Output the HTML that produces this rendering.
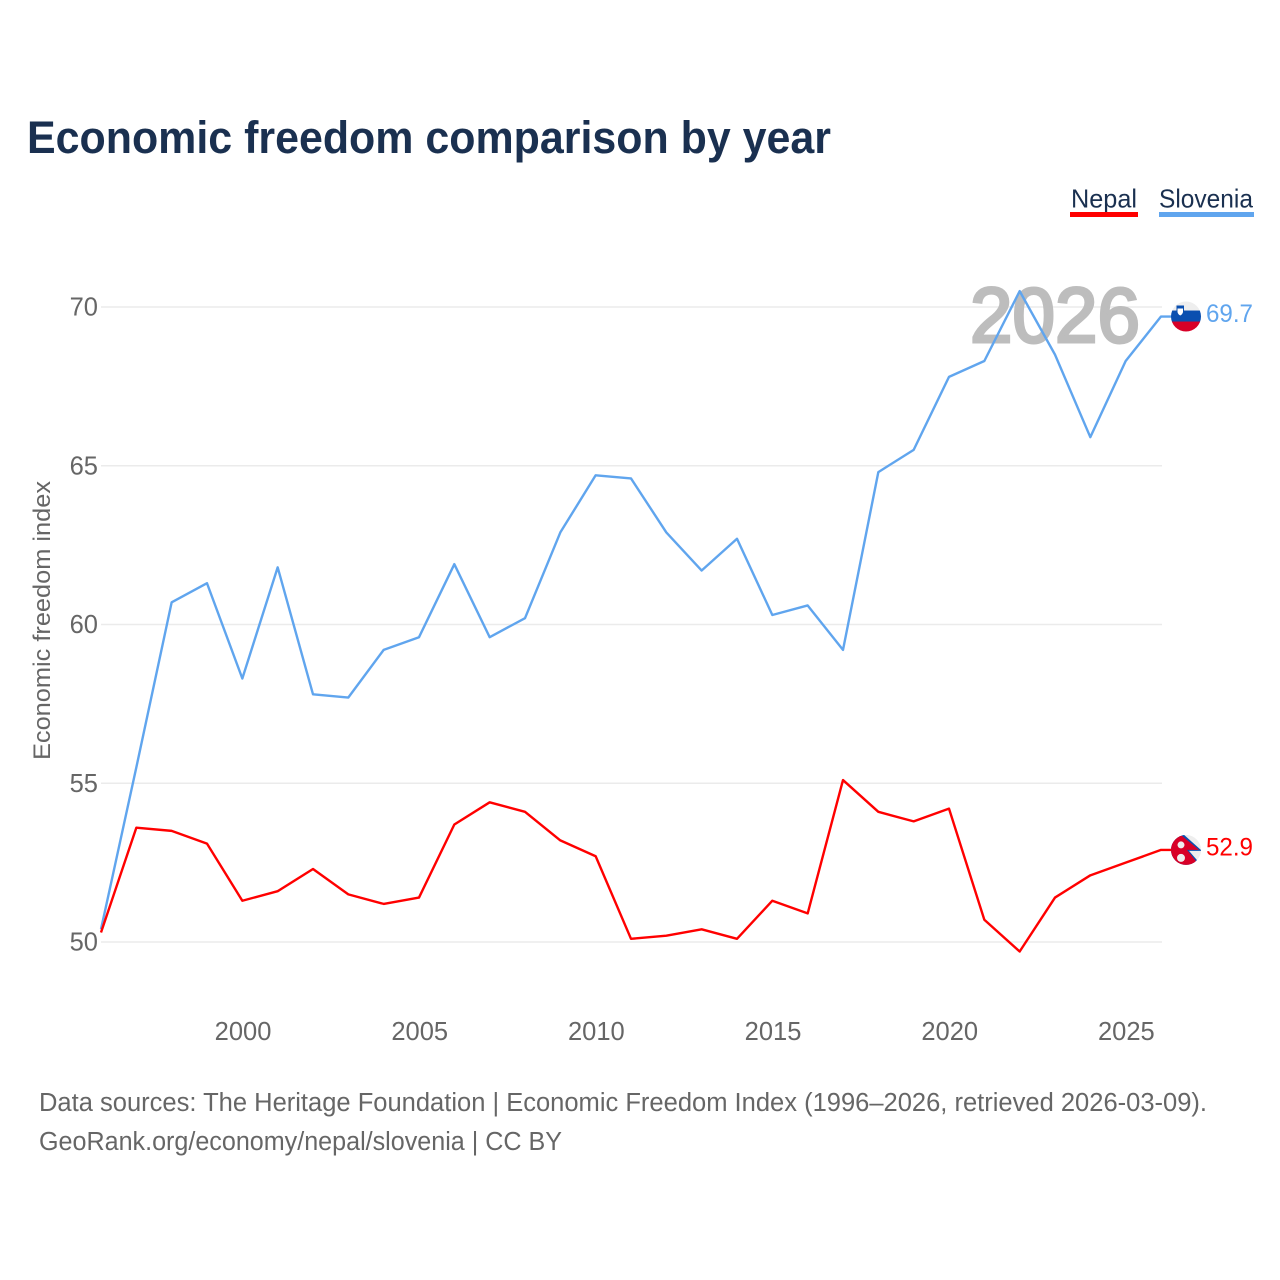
<!DOCTYPE html>
<html lang="en">
<head>
<meta charset="utf-8">
<title>Economic freedom comparison by year</title>
<style>
html,body{margin:0;padding:0;background:#fff;width:1280px;height:1280px;overflow:hidden}
svg{display:block;font-family:"Liberation Sans",sans-serif}
</style>
</head>
<body>
<svg id="chart" xmlns="http://www.w3.org/2000/svg" width="1280" height="1280" viewBox="0 0 1280 1280">
  <rect x="0" y="0" width="1280" height="1280" fill="#ffffff"/>
  <text x="27" y="153" font-size="45" font-weight="700" fill="#1a3050" textLength="804" lengthAdjust="spacingAndGlyphs">Economic freedom comparison by year</text>
  <g>
    <g>
      <text x="1071" y="207.5" font-size="26" fill="#1a3050" textLength="66" lengthAdjust="spacingAndGlyphs">Nepal</text>
      <rect x="1070" y="212" width="68" height="5" fill="#ff0000"/>
    </g>
    <g>
      <text x="1159" y="207.5" font-size="26" fill="#1a3050" textLength="94" lengthAdjust="spacingAndGlyphs">Slovenia</text>
      <rect x="1159" y="212" width="95" height="5" fill="#60a5ee"/>
    </g>
  </g>
  <g id="grid"></g>
  <text x="970" y="342" font-size="78" font-weight="400" fill="#bdbdbd" stroke="#bdbdbd" stroke-width="3" textLength="170" lengthAdjust="spacingAndGlyphs">2026</text>
  <g id="yticks"></g>
  <g id="xticks"></g>
  <text transform="translate(50,760) rotate(-90)" x="0" y="0" font-size="24" fill="#666666" textLength="279" lengthAdjust="spacingAndGlyphs">Economic freedom index</text>
  <g id="series"></g>

  <defs>
    <clipPath id="flag-clip"><circle cx="0" cy="0" r="15"/></clipPath>
  </defs>
  <g id="flag-slovenia">
    <g clip-path="url(#flag-clip)">
      <rect x="-15" y="-15" width="30" height="10" fill="#eeeeee"/>
      <rect x="-15" y="-6" width="30" height="11.5" fill="#0a4fb0"/>
      <rect x="-15" y="5" width="30" height="10" fill="#d80027"/>
      <path d="M-9.5,-11 h7.5 v7 q-.5,3 -3.75,4.5 q-3.25,-1.5 -3.75,-4.5 z" fill="#0a4fb0"/>
      <path d="M-8.5,-8 h5.5 v3.5 q-.5,2.5 -2.75,3.5 q-2.25,-1 -2.75,-3.5 z" fill="#ffffff"/>
    </g>
  </g>
  <g id="flag-nepal">
    <g clip-path="url(#flag-clip)">
      <rect x="-15" y="-15" width="30" height="30" fill="#eeeeee"/>
      <path d="M-16,-16 L-3,-16 L16,1 L3,1 L16,16 L-16,16 Z" fill="#0a4fb0"/>
      <path d="M-16,-16 L-4,-14 L13,0 L1,0 L13,15 L-16,16 Z" fill="#d80027"/>
      <circle cx="-5" cy="-5" r="3.5" fill="#eeeeee"/>
      <circle cx="-5" cy="8" r="4" fill="#eeeeee"/>
    </g>
  </g>
  <text id="value-slovenia" x="1206" y="322" font-size="25" fill="#60a5ee" textLength="47" lengthAdjust="spacingAndGlyphs"></text>
  <text id="value-nepal" x="1206" y="855" font-size="25" fill="#ff0000" textLength="47" lengthAdjust="spacingAndGlyphs"></text>

  <text x="39" y="1111" font-size="25.5" fill="#666666" textLength="1168" lengthAdjust="spacingAndGlyphs">Data sources: The Heritage Foundation | Economic Freedom Index (1996–2026, retrieved 2026-03-09).</text>
  <text x="39" y="1150" font-size="25.5" fill="#666666" textLength="523" lengthAdjust="spacingAndGlyphs">GeoRank.org/economy/nepal/slovenia | CC BY</text>
</svg>
<script>
const years = [1996,1997,1998,1999,2000,2001,2002,2003,2004,2005,2006,2007,2008,2009,2010,2011,2012,2013,2014,2015,2016,2017,2018,2019,2020,2021,2022,2023,2024,2025,2026];
const nepalValues = [50.3,53.6,53.5,53.1,51.3,51.6,52.3,51.5,51.2,51.4,53.7,54.4,54.1,53.2,52.7,50.1,50.2,50.4,50.1,51.3,50.9,55.1,54.1,53.8,54.2,50.7,49.7,51.4,52.1,52.5,52.9];
const sloveniaValues = [50.4,55.5,60.7,61.3,58.3,61.8,57.8,57.7,59.2,59.6,61.9,59.6,60.2,62.9,64.7,64.6,62.9,61.7,62.7,60.3,60.6,59.2,64.8,65.5,67.8,68.3,70.5,68.5,65.9,68.3,69.7];
const yTickValues = [50,55,60,65,70];
const xTickValues = [2000,2005,2010,2015,2020,2025];

const NS = 'http://www.w3.org/2000/svg';
function xScale(year){ return 101 + (year - 1996) * (1161 - 101) / 30; }
function yScale(value){ return 942 - (value - 50) * (942 - 307) / 20; }

const grid = document.getElementById('grid');
const yticks = document.getElementById('yticks');
const xticks = document.getElementById('xticks');
const series = document.getElementById('series');

yTickValues.forEach(function(v){
  const line = document.createElementNS(NS, 'line');
  
  
  line.setAttribute('x1', xScale(1996));
  line.setAttribute('x2', xScale(2026) + 1);
  line.setAttribute('y1', yScale(v));
  line.setAttribute('y2', yScale(v));
  line.setAttribute('stroke', '#ebebeb');
  line.setAttribute('stroke-width', '1.5');
  grid.appendChild(line);

  const label = document.createElementNS(NS, 'text');
  
  
  label.setAttribute('x', 98);
  label.setAttribute('y', yScale(v) + 8.5);
  label.setAttribute('text-anchor', 'end');
  label.setAttribute('font-size', '25.5');
  label.setAttribute('fill', '#666666');
  label.textContent = v;
  yticks.appendChild(label);
});

xTickValues.forEach(function(y){
  const label = document.createElementNS(NS, 'text');
  
  
  label.setAttribute('x', xScale(y) + 0.7);
  label.setAttribute('y', 1040);
  label.setAttribute('text-anchor', 'middle');
  label.setAttribute('font-size', '25.5');
  label.setAttribute('fill', '#666666');
  label.textContent = y;
  xticks.appendChild(label);
});

function linePoints(values){
  const pts = values.map(function(v, i){ return xScale(years[i]).toFixed(2) + ',' + yScale(v).toFixed(2); });
  const last = values[values.length - 1];
  pts.push('1172,' + yScale(last).toFixed(2));
  return pts.join(' ');
}

const nepalLine = document.createElementNS(NS, 'polyline');


nepalLine.setAttribute('points', linePoints(nepalValues));
nepalLine.setAttribute('fill', 'none');
nepalLine.setAttribute('stroke', '#ff0000');
nepalLine.setAttribute('stroke-width', '2.4');
nepalLine.setAttribute('stroke-linejoin', 'round');

const sloveniaLine = document.createElementNS(NS, 'polyline');


sloveniaLine.setAttribute('points', linePoints(sloveniaValues));
sloveniaLine.setAttribute('fill', 'none');
sloveniaLine.setAttribute('stroke', '#60a5ee');
sloveniaLine.setAttribute('stroke-width', '2.4');
sloveniaLine.setAttribute('stroke-linejoin', 'round');

series.appendChild(sloveniaLine);
series.appendChild(nepalLine);

const lastSlovenia = sloveniaValues[sloveniaValues.length - 1];
const lastNepal = nepalValues[nepalValues.length - 1];
document.getElementById('flag-slovenia').setAttribute('transform', 'translate(1186,' + yScale(lastSlovenia) + ')');
document.getElementById('flag-nepal').setAttribute('transform', 'translate(1186,' + yScale(lastNepal) + ')');
const valueSlovenia = document.getElementById('value-slovenia');
valueSlovenia.textContent = lastSlovenia.toFixed(1);
valueSlovenia.setAttribute('y', yScale(lastSlovenia) + 5.5);
const valueNepal = document.getElementById('value-nepal');
valueNepal.textContent = lastNepal.toFixed(1);
valueNepal.setAttribute('y', yScale(lastNepal) + 5.5);
</script>
</body>
</html>
